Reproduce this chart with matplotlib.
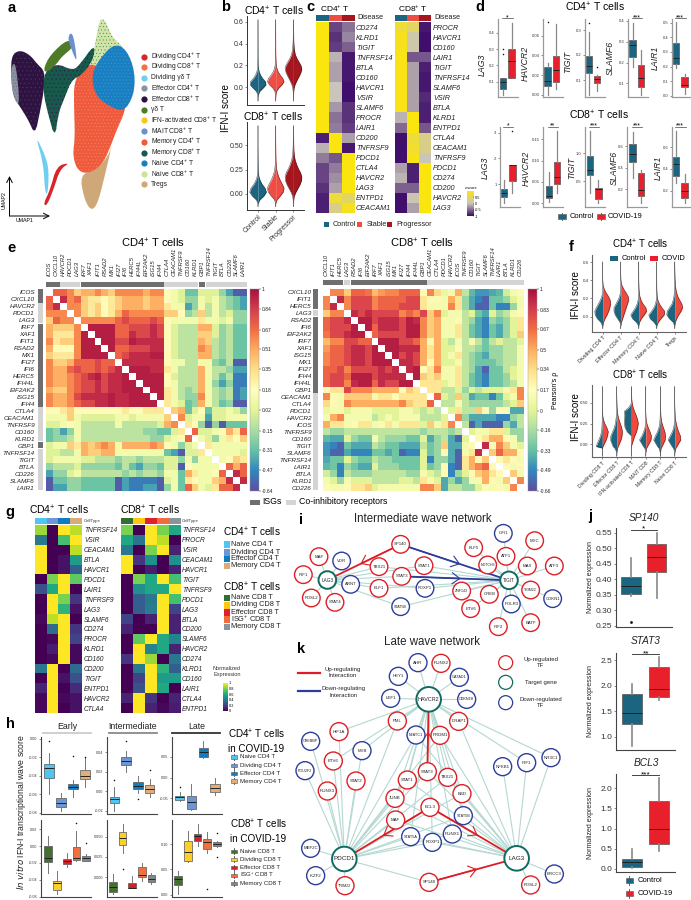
import numpy as np
import matplotlib
matplotlib.use('Agg')
import matplotlib.pyplot as plt
from matplotlib.patches import Polygon, Circle, Rectangle
from matplotlib.colors import LinearSegmentedColormap

plt.rcParams['font.family'] = ['Liberation Sans', 'DejaVu Sans']
plt.rcParams['mathtext.default'] = 'regular'
plt.rcParams['hatch.linewidth'] = 0.3

W, H = 691, 900
fig = plt.figure(figsize=(W / 100, H / 100), dpi=100, facecolor='white')
ov = fig.add_axes([0, 0, 1, 1], zorder=20)
ov.set_xlim(0, W); ov.set_ylim(H, 0); ov.axis('off'); ov.patch.set_alpha(0)

TEAL, COVID, STABLE, PROG = '#1b6580', '#e8202c', '#ef4c44', '#a5161f'
CD4, CD8 = r'CD4$^{+}$ T cells', r'CD8$^{+}$ T cells'

# ---------- a: UMAP cluster outlines (px*3)
umap_names = ['Dividing CD4$^{+}$ T', 'Dividing CD8$^{+}$ T', 'Dividing γδ T', 'Effector CD4$^{+}$ T', 'Effector CD8$^{+}$ T',
              'γδ T', 'IFN-activated CD8$^{+}$ T', 'MAIT CD8$^{+}$ T', 'Memory CD4$^{+}$ T', 'Memory CD8$^{+}$ T',
              'Naive CD4$^{+}$ T', 'Naive CD8$^{+}$ T', 'Tregs']
umap_colors = ['#d7262b', '#f2713c', '#6ecff0', '#8c91a0', '#2e1342', '#4f7a28', '#f6c61e', '#6d8fd0', '#ef5a3c', '#17594a',
               '#1a7fc1', '#cfe29c', '#cfa878']
u_tan = [(240, 525), (285, 510), (325, 470), (338, 425), (315, 525), (292, 615), (272, 632), (252, 595)]
u_mem4 = [(222, 245), (250, 200), (290, 190), (380, 280), (375, 335), (350, 390), (335, 430), (310, 490), (270, 520), (235, 515),
          (218, 470), (225, 410), (222, 320)]
u_naive4 = [(285, 195), (340, 130), (380, 148), (405, 215), (402, 285), (372, 335), (330, 320), (290, 290), (275, 240)]
u_naive8 = [(298, 58), (315, 58), (335, 110), (380, 150), (340, 160), (290, 205), (268, 205), (287, 125)]
u_eff8 = [(35, 165), (60, 150), (90, 165), (110, 190), (135, 215), (132, 270), (120, 335), (105, 405), (85, 360), (60, 320), (40, 290), (33, 220)]
u_eff4 = [(35, 195), (48, 190), (60, 322), (40, 292), (33, 240)]
u_mem8 = [(133, 215), (170, 190), (215, 210), (235, 200), (285, 130), (280, 180), (245, 225), (215, 240), (195, 290), (175, 340), (165, 415), (145, 345), (130, 280)]
u_gd = [(130, 208), (150, 165), (205, 115), (222, 140), (185, 170), (170, 192), (140, 218)]
u_mait = [(203, 113), (214, 96), (223, 120), (232, 190), (215, 150)]
u_divgd = [(106, 405), (135, 465), (147, 510), (143, 585), (135, 575), (130, 490)]
u_div4 = [(130, 612), (150, 570), (170, 498), (210, 488), (180, 508), (160, 570), (140, 618)]


def rounded(poly, n=2):
    p = np.array(poly, float)
    for _ in range(n):
        q = np.roll(p, -1, axis=0)
        p = np.column_stack([.75 * p + .25 * q, .25 * p + .75 * q]).reshape(-1, 2)
    return p


for poly, fc, hc, ha in [(u_tan, '#cfa878', '#cfa878', ''), (u_naive8, '#d3e5a6', '#3d8a5c', '.....'), (u_mem4, '#ef5a3c', '#f58a6a', '.....'),
                         (u_naive4, '#1a7fc1', '#3d9ad6', '.....'), (u_eff8, '#2e1342', '#4a3a55', '....'), (u_eff4, '#8c91a0', '#5f7080', '.....'),
                         (u_mem8, '#17594a', '#2f1a48', '....'), (u_gd, '#4f7a28', '#4f7a28', ''), (u_mait, '#6d8fd0', '#6d8fd0', ''),
                         (u_divgd, '#6ecff0', '#6ecff0', ''), (u_div4, '#d7262b', '#f2713c', '')]:
    ov.add_patch(Polygon(rounded(poly) / 3, closed=True, facecolor=fc, edgecolor=hc, hatch=ha, lw=0, zorder=1))
for i, (n, c) in enumerate(zip(umap_names, umap_colors)):
    yy = [170, 201, 233, 265, 297, 329, 361, 393, 425, 458, 490, 521, 552][i] / 3
    ov.scatter([144.5], [yy], s=20, color=c, lw=0)
    ov.text(151, yy, n, fontsize=4.9, va='center', color='#222222')
ov.annotate('', xy=(9.5, 176), xytext=(9.5, 216), arrowprops=dict(arrowstyle='->', lw=.7, color='k', shrinkA=0, shrinkB=0))
ov.annotate('', xy=(50, 216), xytext=(9.5, 216), arrowprops=dict(arrowstyle='->', lw=.7, color='k', shrinkA=0, shrinkB=0))
ov.text(4, 200, 'UMAP2', fontsize=3.8, rotation=90, ha='center', va='center')
ov.text(25, 221, 'UMAP1', fontsize=3.8, ha='center', va='center')


def ax_px(l, t, r, b):
    a = fig.add_axes([l / W, 1 - b / H, (r - l) / W, (b - t) / H])
    a.patch.set_alpha(0)
    return a


def cal_y(a, t, b, v1, y1, v2, y2):
    s = (v2 - v1) / (y2 - y1)
    a.set_ylim(v1 + (b - y1) * s, v1 + (t - y1) * s)


def cal_x(a, l, r, c0, dc):
    a.set_xlim((l - c0) / dc, (r - c0) / dc)


def style(a, ts=4, col='#333333', lw=.7, tl=1.5):
    for s in ['top', 'right']:
        a.spines[s].set_visible(False)
    for s in ['left', 'bottom']:
        a.spines[s].set_linewidth(lw); a.spines[s].set_color(col)
    a.tick_params(labelsize=ts, length=tl, width=.4, pad=1, colors='#333333')


# ---------- b: violins
b4_y = [-.13, -.1, -.07, -.04, -.01, .02, .05, .08, .11, .14, .17, .2, .23, .26, .3, .35, .4, .45, .5, .55, .62]
b4_control = [0, .01, .04, .2, .6, .95, .9, .55, .3, .14, .06, .03, .02, .015, .01, .008, .006, .005, .004, .002, 0]
b4_stable = [0, .01, .03, .1, .35, .75, 1, .85, .55, .3, .15, .07, .04, .025, .015, .01, .008, .006, .005, .003, 0]
b4_prog = [0, .005, .01, .03, .08, .18, .35, .55, .75, .92, 1, .9, .68, .45, .22, .1, .05, .025, .015, .01, 0]
b8_y = [-.13, -.1, -.06, -.02, .02, .06, .1, .14, .18, .22, .26, .3, .35, .4, .45, .5, .55, .6, .7]
b8_control = [0, .01, .2, .7, 1, .85, .5, .25, .1, .05, .03, .02, .015, .01, .005, 0, 0, 0, 0]
b8_stable = [0, .01, .15, .55, .9, 1, .8, .55, .35, .2, .1, .06, .03, .02, .015, .01, .006, .004, 0]
b8_prog = [0, 0, .03, .1, .3, .55, .8, .97, 1, .85, .6, .4, .2, .1, .05, .03, .02, .012, 0]
b_groups = ['Control', 'Stable', 'Progressor']


def violin(a, pos, y, wl, wr, cl, cr, hw):
    y = np.array(y); wl = np.array(wl) * hw; wr = np.array(wr) * hw
    a.fill_betweenx(y, pos - wl, pos, color=cl, lw=0)
    a.fill_betweenx(y, pos, pos + wr, color=cr, lw=0)
    a.plot(pos - wl, y, color='#222222', lw=.3)
    a.plot(pos + wr, y, color='#222222', lw=.3)


axb1 = ax_px(247, 16, 304, 105); style(axb1, 5)
cal_y(axb1, 16, 105, .6, 22, 0, 87); cal_x(axb1, 247, 304, 258, 17.7)
for i, (w, c) in enumerate(zip([b4_control, b4_stable, b4_prog], [TEAL, STABLE, PROG])):
    violin(axb1, i, b4_y, w, w, c, c, .47)
axb1.set_yticks([0, .2, .4, .6]); axb1.set_yticklabels(['0.0', '0.2', '0.4', '0.6']); axb1.set_xticks([])
axb2 = ax_px(247, 122, 304, 210); style(axb2, 5)
cal_y(axb2, 122, 210, .5, 145.3, 0, 194); cal_x(axb2, 247, 304, 258, 17.7)
for i, (w, c) in enumerate(zip([b8_control, b8_stable, b8_prog], [TEAL, STABLE, PROG])):
    violin(axb2, i, b8_y, w, w, c, c, .47)
axb2.set_yticks([0, .25, .5]); axb2.set_yticklabels(['0.00', '0.25', '0.50'])
axb2.set_xticks([0, 1, 2]); axb2.set_xticklabels(b_groups, rotation=45, ha='right', rotation_mode='anchor', fontsize=5)
ov.text(274, 11, CD4, fontsize=7.5, ha='center', va='center')
ov.text(273, 117, CD8, fontsize=7.5, ha='center', va='center')
ov.text(225.7, 108, 'IFN-I score', fontsize=7, rotation=90, ha='center', va='center')

# ---------- c: disease heatmaps
c4_genes = ['CD274', 'KLRD1', 'TIGIT', 'TNFRSF14', 'BTLA', 'CD160', 'HAVCR1', 'VSIR', 'SLAMF6', 'PROCR', 'LAIR1', 'CD200', 'TNFRSF9', 'PDCD1', 'CTLA4', 'HAVCR2', 'LAG3', 'ENTPD1', 'CEACAM1']
c4_control = [1, 1, 1, 1, 1, 1, 1, 1, 1, 1, 1, -.9, -.1, -.4, -.7, -.7, -.8, -.9, -.9]
c4_stable = [-.7, -.8, -.75, -.1, -.2, -.2, 0, 0, -.25, -.45, -.4, 1, 1, -.6, -.4, -.3, -.2, .75, .3]
c4_prog = [-.45, -.35, -.55, -.95, -.95, -.95, -1, -1, -.8, -.8, -.75, -.2, -.95, 1, 1, 1, 1, .5, .9]
c8_genes = ['PROCR', 'HAVCR1', 'CD160', 'LAIR1', 'TIGIT', 'TNFRSF14', 'SLAMF6', 'VSIR', 'BTLA', 'KLRD1', 'ENTPD1', 'CTLA4', 'CEACAM1', 'TNFRSF9', 'PDCD1', 'CD274', 'CD200', 'HAVCR2', 'LAG3']
c8_control = [.75, .9, .9, .95, .95, .95, .95, .95, .95, -.1, -.5, -1, -1, -1, -.2, -.1, -.55, -1, -1]
c8_stable = [.5, .1, .1, -.6, -.2, -.2, -.2, -.2, -.2, 1, 1, .75, .8, .95, -.9, -.9, -.55, .05, -.2]
c8_prog = [-.95, -1, -1, -.6, -.9, -.95, -.95, -.85, -.9, -.9, -.6, .3, .3, 0, 1, 1, 1, 1, 1]
c_cmap = LinearSegmentedColormap.from_list('c', ['#3f0f6b', '#c9c5bb', '#fbe50f'])


def lab_heat(a, data, genes, cmap, vmin, vmax, fs=5.2):
    a.imshow(np.array(data), cmap=cmap, vmin=vmin, vmax=vmax, aspect='auto', interpolation='nearest')
    a.set_xticks([]); a.yaxis.tick_right()
    a.set_yticks(range(len(genes))); a.set_yticklabels(genes, fontsize=fs, style='italic', color='#222222')
    a.tick_params(length=0, pad=1.5)
    for s in a.spines.values():
        s.set_visible(False)


for (l, r, cols, genes) in [(316, 354, [c4_control, c4_stable, c4_prog], c4_genes), (395, 431, [c8_control, c8_stable, c8_prog], c8_genes)]:
    a = ax_px(l, 22, r, 213)
    lab_heat(a, np.array(cols).T, genes, c_cmap, -1, 1)
    t = ax_px(l, 15, r, 21)
    t.imshow([[0, 1, 2]], cmap=matplotlib.colors.ListedColormap([TEAL, STABLE, PROG]), aspect='auto')
    t.axis('off')
    ov.text(r + 3, 17.5, 'Disease', fontsize=5.2, va='center', color='#222222')
ov.text(335, 9, 'CD4$^{+}$ T', fontsize=6, ha='center', va='center')
ov.text(413, 9, 'CD8$^{+}$ T', fontsize=6, ha='center', va='center')
cbc = ax_px(467, 191, 473, 216)
cbc.imshow(np.linspace(1, -1, 50)[:, None], cmap=c_cmap, aspect='auto', extent=[0, 1, -1, 1])
cbc.set_xticks([]); cbc.yaxis.tick_right(); cbc.set_yticks([-1, -.5, 0, .5]); cbc.set_yticklabels(['-1', '-0.5', '0', '0.5'], fontsize=2.8)
cbc.tick_params(length=1, width=.3, pad=.5)
for s in cbc.spines.values():
    s.set_visible(False)
ov.text(471, 188, 'z-score', fontsize=2.8, ha='center', va='center')
for xk, xt, n, col in [(327, 333, 'Control', TEAL), (360, 367, 'Stable', STABLE), (390, 396, 'Progressor', PROG)]:
    ov.add_patch(Rectangle((xk - 2.5, 221.5), 5, 5, color=col, lw=0))
    ov.text(xt, 224, n, fontsize=5.2, va='center', color='#222222')

# ---------- d: boxplots (lo, q1, median, q3, hi, fliers)
d4_genes = ['LAG3', 'HAVCR2', 'TIGIT', 'SLAMF6', 'LAIR1']
d4_control = [(.018, .053, .097, .12, .125, [.3, .27]), (0, .0095, .014, .0285, .032, [.0735]), (.04, .127, .156, .197, .293, [.33]),
              (.18, .229, .284, .31, .39, []), (.19, .22, .257, .36, .505, [])]
d4_covid = [(.12, .12, .226, .3, .457, []), (.0065, .013, .025, .039, .072, []), (.057, .09, .103, .116, .12, [.153]),
            (.044, .084, .124, .19, .26, []), (.01, .057, .07, .125, .148, [])]
d8_control = [(.25, .5, .66, .8, 1.15, []), (.002, .012, .016, .041, .073, []), (.28, .61, .7, .95, 1.4, []),
              (.3, .45, .53, .615, .73, []), (.27, .34, .45, .51, .75, [])]
d8_covid = [(.66, 1.13, 1.74, 1.74, 1.74, [3.08]), (.025, .045, .062, .097, .17, []), (.1, .17, .36, .37, .52, []),
            (.075, .14, .19, .35, .38, []), (.09, .13, .2, .27, .35, [])]
d4_sig = ['*', '', '', '***', '***']
d8_sig = ['*', '**', '***', '***', '***']


def boxes(a, stats, colors, width, med='#222222', whisk='#666666', lwk=.8, fs=1.1):
    bx = [dict(whislo=s[0], q1=s[1], med=s[2], q3=s[3], whishi=s[4], fliers=s[5]) for s in stats]
    for i, (b, c) in enumerate(zip(bx, colors)):
        a.bxp([b], positions=[i], widths=width, patch_artist=True, showcaps=False,
              boxprops=dict(facecolor=c, edgecolor='#555555', lw=.5),
              medianprops=dict(color=med, lw=.7), whiskerprops=dict(color=whisk, lw=lwk),
              flierprops=dict(marker='o', ms=fs, mfc='#111111', mec='#111111', mew=0), manage_ticks=False)


d4_layout = [(498, 503, 8.7, (.4, 32.7, .1, 81.7), [.1, .2, .3, .4], ['0.1', '0.2', '0.3', '0.4'], 482.7, 65),
             (543, 547.7, 8.3, (.06, 35.7, 0, 95), [0, .02, .04, .06], ['0.00', '0.02', '0.04', '0.06'], 525, 63),
             (585, 589.3, 8, (.3, 30, .1, 80), [.1, .2, .3], ['0.1', '0.2', '0.3'], 568, 62),
             (628, 632.7, 8.3, (.4, 21, .1, 83.3), [.1, .2, .3, .4], ['0.1', '0.2', '0.3', '0.4'], 610.7, 58),
             (672, 676, 8.7, (.5, 22.7, 0, 95.7), [0, .1, .2, .3, .4, .5], ['0.0', '0.1', '0.2', '0.3', '0.4', '0.5'], 655, 58)]
d8_layout = [(500, 504, 8.3, (3, 132.7, 1, 184), [1, 2, 3], ['1', '2', '3'], 485, 168),
             (543, 549, 8, (.15, 139.3, 0, 203.3), [0, .05, .1, .15], ['0.00', '0.05', '0.10', '0.15'], 526.7, 168),
             (585, 590, 8.3, (1, 153.3, .5, 181), [.5, 1], ['0.5', '1.0'], 571.7, 168),
             (627, 632.7, 8.3, (.6, 146, .2, 189.3), [.2, .4, .6], ['0.2', '0.4', '0.6'], 614, 168),
             (672, 676, 8.7, (.6, 147.3, .2, 190.7), [.2, .4, .6], ['0.2', '0.4', '0.6'], 658, 168)]
for rows, ctrl, cov, sigs, t, b, sy in [(d4_layout, d4_control, d4_covid, d4_sig, 19, 97, 18), (d8_layout, d8_control, d8_covid, d8_sig, 127, 206.7, 126.5)]:
    for j, ((l, c0, dc, cal, tk, tl, lx, ly), g) in enumerate(zip(rows, d4_genes)):
        r = min(l + 20, 690)
        a = ax_px(l, t, r, b); style(a, 3, '#999999', .9)
        cal_y(a, t, b, *cal); cal_x(a, l, r, c0, dc)
        boxes(a, [ctrl[j], cov[j]], [TEAL, COVID], .78, whisk='#888888', lwk=.9)
        a.set_yticks(tk); a.set_yticklabels(tl); a.set_xticks([])
        ov.text(lx, ly, g, fontsize=6.3, style='italic', rotation=90, ha='center', va='center', color='#222222')
        if sigs[j]:
            ov.plot([c0 - 1, c0 + dc + 1], [sy, sy], color='#444444', lw=.5)
            ov.text(c0 + dc / 2, sy - .3, sigs[j], fontsize=5, ha='center', va='center')
ov.text(595, 7.3, CD4, fontsize=7.5, ha='center', va='center')
ov.text(599, 115, CD8, fontsize=7.5, ha='center', va='center')


def key_box(x0, yc, w, h, col):
    ov.plot([x0 + w / 2, x0 + w / 2], [yc - h * .8, yc + h * .8], color='#666666', lw=.7)
    ov.add_patch(Rectangle((x0, yc - h / 2), w, h, facecolor=col, edgecolor='#555555', lw=.4, zorder=3))


key_box(557.7, 216.7, 8, 4.5, TEAL); ov.text(569.5, 216.7, 'Control', fontsize=5.4, va='center')
key_box(596.7, 216.7, 8, 4.5, COVID); ov.text(608, 216.7, 'COVID-19', fontsize=5.4, va='center')

# ---------- e: correlation matrices, upper triangles in tenths
e4_genes = ['ICOS', 'CXCL10', 'HAVCR2', 'PDCD1', 'LAG3', 'IRF7', 'XAF1', 'IFIT1', 'RSAD2', 'MX1', 'IFI27', 'IFI6', 'HERC5', 'IFI44L', 'EIF2AK2', 'ISG15', 'IFI44',
            'CTLA4', 'CEACAM1', 'TNFRSF9', 'CD160', 'KLRD1', 'GBP1', 'TNFRSF14', 'TIGIT', 'BTLA', 'CD226', 'SLAMF6', 'LAIR1']
e4_upper = [
    [7, 7, 6, 4, 5, 5, 6, 5, 4, 6, 6, 6, 6, 5, 6, 6, 2, 1, 0, -3, -3, 0, 0, 0, -2, -4, -6, -6],
    [9, 6, 7, 4, 3, 3, 2, 3, 4, 5, 5, 5, 4, 5, 5, 2, 1, 0, -2, -2, 1, 0, 1, -1, -2, -3, -4],
    [6, 6, 4, 3, 4, 2, 3, 4, 5, 5, 5, 4, 5, 5, 3, 1, 1, -4, -2, 1, -1, 1, -1, -2, -3, -4],
    [6, 4, 3, 4, 2, 3, 5, 7, 6, 6, 6, 6, 6, 4, 4, 2, -2, -1, 4, -1, 1, -1, 0, -2, -2],
    [6, 6, 6, 6, 6, 7, 8, 7, 7, 7, 8, 7, 2, 1, 1, 1, 1, 3, 1, 1, 0, 1, -2, -2],
    [9.5, 9.5, 9.5, 9.5, 7, 7, 8, 8, 8, 9, 8, 2, 0, -1, -1, -1, 5, 5, 0, -2, -1, -3, -3],
    [9.5, 9.5, 9.5, 7, 7, 9, 8, 8, 9, 8, 2, 0, -1, -1, -1, 4, 4, 0, -2, -1, -3, -3],
    [9.5, 9.5, 8, 8, 9.5, 9, 9, 9, 9, 2, 0, -1, -1, -1, 5, 4, -1, -2, -1, -3, -3],
    [9.5, 7, 7, 8, 8, 8, 9, 9, 2, 0, -1, -1, -1, 6, 5, -1, -2, -1, -3, -3],
    [7, 8, 9, 9, 9, 9.5, 9.5, 2, 0, -1, -1, -1, 5, 5, -1, -2, -1, -3, -3],
    [9, 9, 9, 9, 9, 9, 2, 1, 1, -1, -1, 1, 1, -2, -3, -1, -6, -6],
    [9.5, 9.5, 9.5, 9, 9, 3, 1, -1, -1, -1, 5, 1, -1, -1, -2, -4, -4],
    [9.5, 9.5, 9.5, 9.5, 2, 0, -1, -1, -1, 5, 1, -1, -3, -1, -5, -5],
    [9.5, 9.5, 9.5, 2, 1, -1, -1, -1, 5, 1, -2, -4, -2, -5, -5],
    [9.5, 9.5, 3, 1, -1, -2, -1, 5, 1, -1, -2, -1, -5, -4],
    [9.5, 3, 1, -1, -2, -2, 6, 1, -1, -2, -1, -5, -4],
    [3, 1, 0, -3, -2, 5, 1, -1, -3, -2, -6, -6],
    [4, 5, -3, 0, 2, -3, 0, 0, 1, 0, -2],
    [6, 0, 1, 1, -4, 0, 0, 1, 1, 1],
    [3, 2, -2, -6, -2, -6, -3, -3, -3],
    [7, 0, 0, 1, 2, 5, 3, 7],
    [1, 0, -2, 1, 3, 2, 4],
    [3, 1, 1, 1, 1, 1],
    [1, 1, 1, 1, 0],
    [1, 2, 4, 3],
    [7, 5, 7],
    [9, 7],
    [9]]
e4_groups = [2, 3, 12, 5, 1, 6]
e8_genes = ['CXCL10', 'IFIT1', 'HERC5', 'LAG3', 'RSAD2', 'IFI6', 'EIF2AK2', 'IRF7', 'XAF1', 'ISG15', 'MX1', 'IFI27', 'IFI44', 'IFI44L', 'GBP1', 'CEACAM1', 'CTLA4',
            'PDCD1', 'HAVCR2', 'ICOS', 'TNFRSF9', 'CD160', 'TIGIT', 'SLAMF6', 'TNFRSF14', 'LAIR1', 'BTLA', 'KLRD1', 'CD226']
e8_upper = [
    [6, 6, 4, 7, 7, 6.5, 4.5, 5.5, 6, 6, 7, 7, 7, 2, 6, 3.5, .5, 1, 5, -1, -3.5, -4.5, -4.5, -4, -3.5, -.5, 1, 2],
    [9, 6, 8, 8, 8, 6, 7, 7, 7, 7, 8, 8, 3, 2, 2, 1, 5, 3, -2, -4, -5, -6, -3, -3, -2, 0, 1],
    [6, 8, 8, 8, 6, 7, 7, 7, 8, 8, 8, 3, 1, 1, 1, 6, 3, -2, -4, -6, -6, -3, -5, -5, -2, 1],
    [9, 8, 9, 8, 8, 8, 8, 6, 7, 6, 8, 4, 6, 0, 1, 1, -1, 0, -3, -4, 0, -2, -1, 1, 2],
    [9.5, 9.5, 8, 9, 9, 9, 8, 9.5, 9, 6, 4, 5, 1, 1, 2, -1, -2, -4, -5, -2, -3, -2, 0, 3],
    [9.5, 7, 9, 9, 9, 8, 9.5, 9.5, 6, 4, 5, 1, 1, 3, -1, -3, -4, -5, -3, -4, -2, 0, 3],
    [7, 8, 8, 8, 8, 9.5, 9.5, 6, 4, 5, 1, 1, 3, -1, -3, -4, -5, -3, -4, -2, 0, 4],
    [9.5, 9.5, 9.5, 8, 8, 7, 5, 1, 5, 0, -1, 1, -1, 1, -1, -3, -1, 0, -1, -1, 0],
    [9.5, 9.5, 9, 9, 9, 5, 3, 5, 0, 0, 2, -1, -1, -2, -3, -2, -2, -1, -1, 1],
    [9.5, 8, 9, 8, 5, 3, 5, 0, 1, 3, -1, -2, -3, -4, -2, -2, -1, -1, 1],
    [9, 9, 8, 5, 2, 5, 0, 0, 1, -1, -2, -3, -3, -3, -2, -1, -1, 1],
    [9, 9.5, 2, 3, 6, 1, 1, 3, -1, -2, -4, -6, -3, -3, -1, 0, 1],
    [9.5, 4, 3, 4, 1, 1, 3, -1, -3, -4, -5, -3, -3, -2, 0, 1],
    [3, 3, 3, 0, 1, 3, -1, -3, -4, -5, -3, -3, -2, -1, 1],
    [3, 3, -1, -1, 0, -2, 0, -1, 0, 0, 0, 1, 3, 6],
    [7, 0, -1, 4, -1, -4, -3, -3, -5, -3, 0, 1, 6],
    [-1, -1, 1, -1, -2, -2, -2, -2, -2, -1, 0, 4],
    [0, 3, -1, -1, 4, 2, -2, 2, 2, -4, -4],
    [6, -2, -4, -4, -4, -4, -5, -5, -2, -1],
    [-1, -6, -4, -6, -6, -6, -2, -4, -1],
    [0, 1, 1, 3, 3, 0, -2, -2],
    [2, 3, 5, 5, 2, 1, -2],
    [9, 2, 6, 4, 1, 0],
    [4, 7, 5, 5, 2],
    [2, 3, 2, 1],
    [2, 1, 2],
    [4, 1],
    [6]]
e8_groups = [3, 1, 11, 14]
GD, GL = '#6e6e6e', '#d4d4d4'
e_cmap = LinearSegmentedColormap.from_list('e', ['#5e4fa2', '#3288bd', '#66c2a5', '#abdda4', '#e6f598', '#ffffbf', '#fee08b', '#fdae61', '#f46d43', '#d53e4f', '#a8123f'])
e_cmap.set_bad('white')


def corr(up):
    n = len(up) + 1
    m = np.full((n, n), np.nan)
    for i, row in enumerate(up):
        for k, v in enumerate(row):
            m[i, i + 1 + k] = m[i + 1 + k, i] = v / 10
    return m


for (mat, genes, gr, l, r, tb, lb, cb, lo, ticks, tl, cols) in [
        (e4_upper, e4_genes, e4_groups, 46, 247, (281.7, 286.7), (37.7, 42.7), (250, 259), -.64,
         [1, .84, .67, .51, .35, .18, .02, -.15, -.31, -.47, -.64], ['1', '0.84', '0.67', '0.51', '0.35', '0.18', '0.02', '-0.15', '-0.31', '-0.47', '-0.64'], [GD, GL, GD, GL, GD, GL]),
        (e8_upper, e8_genes, e8_groups, 323, 524, (280, 285), (313, 318.5), (528, 537), -.66,
         [1, .83, .67, .5, .34, .17, 0, -.16, -.33, -.49, -.66], ['1', '0.83', '0.67', '0.5', '0.34', '0.17', '0', '-0.16', '-0.33', '-0.49', '-0.66'], [GD, GL, GD, GL])]:
    a = ax_px(l, 289, r, 491)
    a.set_facecolor('white'); a.patch.set_alpha(1)
    a.imshow(corr(mat), cmap=e_cmap, vmin=lo, vmax=1, aspect='auto', interpolation='nearest')
    a.xaxis.tick_top()
    a.set_xticks(range(29)); a.set_xticklabels(genes, rotation=90, fontsize=4.2, style='italic', color='#222222')
    a.set_yticks(range(29)); a.set_yticklabels(genes, fontsize=4.6, style='italic', color='#222222')
    a.tick_params(axis='x', length=0, pad=9)
    a.tick_params(axis='y', length=0, pad=8 if l > 100 else 8)
    for s in a.spines.values():
        s.set_visible(False)
    cell = (r - l) / 29
    st = 0
    for n, c in zip(gr, cols):
        ov.add_patch(Rectangle((l + st * cell + .3, tb[0]), n * cell - .6, tb[1] - tb[0], color=c, lw=0))
        ov.add_patch(Rectangle((lb[0], 289 + st * cell + .3), lb[1] - lb[0], n * cell - .6, color=c, lw=0))
        st += n
    cba = ax_px(cb[0], 289, cb[1], 491)
    cba.imshow(np.linspace(1, lo, 200)[:, None], cmap=e_cmap, vmin=lo, vmax=1, aspect='auto', extent=[0, 1, lo, 1])
    cba.set_xticks([]); cba.yaxis.tick_right(); cba.set_yticks(ticks); cba.set_yticklabels(tl, fontsize=3.6, color='#222222')
    cba.tick_params(length=1.2, width=.3, pad=.8)
    for s in cba.spines.values():
        s.set_linewidth(.3); s.set_color('#999999')
ov.text(152.7, 243, CD4, fontsize=8, ha='center', va='center')
ov.text(421.7, 243, CD8, fontsize=8, ha='center', va='center')
ov.text(556, 390, "Pearson's ρ", fontsize=5, rotation=90, ha='center', va='center')
ov.add_patch(Rectangle((250, 499.5), 10, 5, color=GD, lw=0)); ov.text(262, 502, 'ISGs', fontsize=6.3, va='center')
ov.add_patch(Rectangle((286, 499.5), 10, 5, color=GL, lw=0)); ov.text(299, 502, 'Co-inhibitory receptors', fontsize=6.3, va='center')

# ---------- f: split violins
f4_y = [-.13, -.1, -.06, -.02, .02, .06, .1, .14, .18, .22, .26, .3, .35, .4, .45, .5, .55, .6]
f4_cats = ['Dividing CD4 T', 'Effector CD4 T', 'Memory CD4 T', 'Naive CD4 T', 'Tregs']
f4_control = [[0, .02, .25, .7, .95, 1, .8, .55, .3, .12, .03, .01, 0, 0, 0, 0, 0, 0],
              [0, 0, .1, .4, .7, .85, .85, .6, .35, .15, .05, .02, .01, 0, 0, 0, 0, 0],
              [0, .02, .3, .8, 1, .7, .4, .2, .08, .04, .02, .01, .01, .005, .005, .003, .002, 0],
              [0, .03, .35, .85, 1, .65, .35, .15, .06, .03, .015, .01, .005, .002, 0, 0, 0, 0],
              [0, .02, .2, .7, 1, .95, .65, .35, .2, .1, .05, .03, .02, .015, .01, .005, .003, 0]]
f4_covid = [[0, .02, .1, .3, .55, .75, .9, 1, .95, .75, .45, .2, .05, .01, 0, 0, 0, 0],
            [0, .02, .1, .25, .4, .55, .7, .85, 1, .95, .7, .4, .12, .03, .01, 0, 0, 0],
            [0, .01, .1, .35, .7, 1, .9, .55, .3, .15, .08, .04, .02, .01, .005, .003, .002, 0],
            [0, .02, .2, .55, .95, 1, .65, .35, .15, .06, .03, .015, .007, .003, 0, 0, 0, 0],
            [0, .01, .08, .25, .5, .8, 1, .9, .65, .4, .25, .15, .08, .05, .03, .02, .01, .005]]
f8_y = [-.15, -.1, -.05, -.03, .05, .1, .15, .2, .25, .3, .35, .4, .45, .5, .55, .6, .7]
f8_cats = ['Dividing CD8 T', 'Effector CD8 T', 'IFN-activated CD8 T', 'MAIT CD8', 'Memory CD8 T', 'Naive CD8 T']
f8_control = [[0, 0, 0, .9, .5, .25, .12, .06, .03, .02, .01, .005, 0, 0, 0, 0, 0],
              [0, .02, .3, .55, .9, .85, .6, .35, .2, .12, .06, .03, .02, .01, .005, 0, 0],
              [0, 0, 0, 0, 0, 0, .6, .9, 1, 1, .95, 1, .3, 0, 0, 0, 0],
              [0, 0, .15, .35, .9, .55, .3, .12, .04, .01, 0, 0, 0, 0, 0, 0, 0],
              [0, .02, .2, .4, .95, .7, .4, .2, .08, .04, .02, .01, .005, 0, 0, 0, 0],
              [0, .01, .2, .4, .95, .65, .35, .15, .07, .03, .02, .01, 0, 0, 0, 0, 0]]
f8_covid = [[0, 0, 0, .1, .55, .75, .85, .65, .35, .15, .05, .02, .005, 0, 0, 0, 0],
            [.005, .02, .1, .2, .6, .75, .8, .7, .5, .3, .15, .08, .04, .02, .01, 0, 0],
            [0, 0, 0, 0, .3, .5, .75, .9, 1, .9, .7, .45, .25, .12, .05, .03, .01],
            [0, .02, .12, .25, .75, .8, .6, .35, .15, .05, .02, 0, 0, 0, 0, 0, 0],
            [.01, .03, .12, .25, .7, .75, .65, .45, .25, .13, .07, .04, .02, .01, 0, 0, 0],
            [0, .02, .15, .3, .85, .8, .55, .35, .2, .1, .05, .03, .01, 0, 0, 0, 0]]
LC, RC = '#1b6580', '#ee4a3e'
fa = ax_px(592, 255, 686, 331.7); style(fa, 3.2, '#666666', .8)
cal_y(fa, 255, 331.7, .6, 262, 0, 316.7); cal_x(fa, 592, 686, 602.7, 18)
for i, (wl, wr) in enumerate(zip(f4_control, f4_covid)):
    violin(fa, i, f4_y, wl, wr, LC, RC, .44)
fa.set_yticks([0, .2, .4, .6]); fa.set_yticklabels(['0.0', '0.2', '0.4', '0.6'])
fa.set_xticks(range(5)); fa.set_xticklabels(f4_cats, rotation=45, ha='right', rotation_mode='anchor', fontsize=3.9)
fb = ax_px(592, 385, 686, 457); style(fb, 3.2, '#666666', .8)
cal_y(fb, 385, 457, .5, 403, 0, 444); cal_x(fb, 592, 686, 602.3, 14.5)
for i, (wl, wr) in enumerate(zip(f8_control, f8_covid)):
    violin(fb, i, f8_y, wl, wr, LC, RC, .48)
fb.set_yticks([0, .25, .5]); fb.set_yticklabels(['0.00', '0.25', '0.50'])
fb.set_xticks(range(6)); fb.set_xticklabels(f8_cats, rotation=45, ha='right', rotation_mode='anchor', fontsize=3.7)
ov.text(640, 244, CD4, fontsize=7, ha='center', va='center')
ov.text(640, 375.7, CD8, fontsize=7, ha='center', va='center')
ov.text(576, 295, 'IFN-I score', fontsize=7, rotation=90, ha='center', va='center')
ov.text(576, 417, 'IFN-I score', fontsize=7, rotation=90, ha='center', va='center')
ov.add_patch(Rectangle((610, 255.5), 8.5, 5, color=TEAL, lw=0)); ov.text(622, 258, 'Control', fontsize=5.4, va='center')
ov.add_patch(Rectangle((650, 255.5), 8.5, 5, color=COVID, lw=0)); ov.text(662, 258, 'COVID', fontsize=5.4, va='center')

# ---------- g: viridis heatmaps
g4_genes = ['TNFRSF14', 'VSIR', 'CEACAM1', 'BTLA', 'HAVCR1', 'PDCD1', 'LAIR1', 'TNFRSF9', 'LAG3', 'SLAMF6', 'CD274', 'PROCR', 'KLRD1', 'CD160', 'CD200', 'TIGIT', 'ENTPD1', 'HAVCR2', 'CTLA4']
g4_naive = [.85, .4, 1, 1, 1, 0, .25, 0, 0, .02, 0, 0, 0, 0, .4, 0, .1, .02, .02]
g4_dividing = [0, 0, 0, 0, 0, .8, .6, 1, 1, .9, .35, .02, .08, .02, 1, 1, 1, 1, 1]
g4_effector = [1, .7, 0, .05, .05, 1, 1, .8, .65, 1, 1, 1, 1, 1, 0, .05, 0, .02, 0]
g4_memory = [.9, 1, .9, .55, .3, .75, 0, .15, .05, 0, .15, .2, .02, .02, .35, .25, .12, .05, .05]
g8_genes = ['TNFRSF14', 'PROCR', 'VSIR', 'CEACAM1', 'HAVCR1', 'TIGIT', 'TNFRSF9', 'PDCD1', 'LAG3', 'BTLA', 'CD200', 'SLAMF6', 'HAVCR2', 'CD274', 'KLRD1', 'CD160', 'LAIR1', 'CTLA4', 'ENTPD1']
g8_naive = [.8, .6, .4, 1, 1, 0, 0, 0, 0, .2, .1, 0, 0, .15, 0, 0, 0, .1, 0]
g8_dividing = [0, .38, 0, .15, 0, .8, .5, .3, .3, 0, 0, .75, 1, 1, .4, .2, .25, 1, 1]
g8_effector = [1, 1, .8, .5, .08, .6, .6, .4, .42, .1, 0, 1, .45, .85, 1, 1, 1, .15, .1]
g8_isg = [.8, .9, 1, 0, 0, 1, .6, 1, 1, 1, 1, .6, .6, 0, .65, .55, .6, 0, .02]
g8_memory = [.6, 0, .1, .5, .1, .7, 1, .7, .2, .1, .1, .45, .1, .4, .3, .55, 0, .1, .08]
g4_colors = ['#4fc5f0', '#6d96d6', '#0f7cc0', '#d9ab79']
g8_colors = ['#2f6f33', '#fdc80d', '#e2202c', '#f26b3a', '#8a949c']
g4_legend = ['Naive CD4 T', 'Dividing CD4 T', 'Effector CD4 T', 'Memory CD4 T']
g8_legend = ['Naive CD8 T', 'Dividing CD8 T', 'Effector CD8 T', 'ISG$^{+}$ CD8 T', 'Memory CD8 T']
for l, r, cols, genes, tc in [(35, 82, [g4_naive, g4_dividing, g4_effector, g4_memory], g4_genes, g4_colors),
                              (120.7, 180, [g8_naive, g8_dividing, g8_effector, g8_isg, g8_memory], g8_genes, g8_colors)]:
    a = ax_px(l, 525, r, 713)
    lab_heat(a, np.array(cols).T, genes, 'viridis', 0, 1, 4.8)
    t = ax_px(l, 518, r, 524)
    t.imshow([range(len(tc))], cmap=matplotlib.colors.ListedColormap(tc), aspect='auto'); t.axis('off')
    ov.text(r + 1.5, 521, 'CellType', fontsize=3.2, va='center', color='#333333')
ov.text(59, 510.7, CD4, fontsize=7.5, ha='center', va='center')
ov.text(150, 510.7, CD8, fontsize=7.5, ha='center', va='center')
ov.text(252, 532.7, CD4, fontsize=7.2, ha='center', va='center')
ov.text(252, 587, CD8, fontsize=7.2, ha='center', va='center')
for names, cols, ys in [(g4_legend, g4_colors, [133, 157, 176, 197]), (g8_legend, g8_colors, [293, 315, 336, 358, 380])]:
    for n, c, y in zip(names, cols, ys):
        ov.add_patch(Rectangle((224, 500 + y / 3 - 3), 6, 6.5, color=c, lw=0))
        ov.text(231, 500 + y / 3, n, fontsize=5.3, va='center', color='#222222')
ov.text(227, 671.5, 'Normalized\nExpression', fontsize=4, ha='center', va='center', linespacing=1.3, color='#333333')
cbg = ax_px(223, 683, 228, 711)
cbg.imshow(np.linspace(1, 0, 50)[:, None], cmap='viridis', aspect='auto', extent=[0, 1, 0, 1])
cbg.set_xticks([]); cbg.yaxis.tick_right(); cbg.set_yticks([0, .2, .4, .6, .8, 1]); cbg.set_yticklabels(['0', '0.2', '0.4', '0.6', '0.8', '1'], fontsize=2.8)
cbg.tick_params(length=0, pad=.8)
for s in cbg.spines.values():
    s.set_visible(False)

# ---------- h: wave score boxes
h4_colors = ['#4fc5f0', '#6d96d6', '#0f7cc0', '#dfae7a']
h8_colors = ['#44702f', '#fdcf2d', '#d21f2b', '#f2703f', '#7f868c']
h4_early = [(-.06, -.042, -.031, -.027, -.0155, [-.002]), (-.078, -.0735, -.07, -.064, -.059, []), (-.0626, -.0547, -.052, -.049, -.0445, [-.0185]), (-.0525, -.043, -.04, -.0337, -.021, [-.019])]
h4_inter = [(-.02, -.0126, -.0085, -.0058, .004, [.011]), (.0198, .0266, .0307, .0344, .041, [.0515]), (-.0017, .002, .0055, .0089, .0157, [-.0078]), (-.0065, -.0014, .0017, .0061, .0123, [.0215])]
h4_late = [(-.0565, -.054, -.0476, -.044, -.0355, [-.022]), (-.078, -.075, -.06, -.0435, -.016, []), (.047, .049, .061, .0726, .089, []), (-.042, -.035, -.025, -.0153, -.0016, [])]
h8_early = [(-.0317, -.0186, -.0139, 0, .0119, []), (-.057, -.0523, -.0436, -.0412, -.0293, []), (-.025, -.0206, -.0178, -.0158, -.0079, []), (-.0182, -.0166, -.0139, -.0008, .0174, [.027]), (-.0178, -.0174, -.0143, -.0119, -.0095, [.004])]
h8_inter = [(-.0205, -.0176, -.0123, -.0061, .0037, []), (.0295, .0393, .049, .0561, .0656, [.0098]), (-.0135, -.0135, -.0127, -.0074, .0016, []), (-.0045, .0004, .0029, .0123, .018, []), (-.0082, -.0057, -.0016, .0025, .0049, [])]
h8_late = [(.0013, .0197, .031, .0375, .0467, []), (.065, .0664, .0836, .1066, .1257, []), (.096, .1059, .1158, .1197, .1388, []), (.0816, .0895, .1046, .1099, .123, [.0105]), (.0934, .096, .1, .1039, .1066, [.121, .075])]
h_facets = ['Early', 'Intermediate', 'Late']
h4_leg = ['Naive CD4 T', 'Dividing CD4 T', 'Effector CD4 T', 'Memory CD4 T']
h8_leg = ['Naive CD8 T', 'Dividing CD8 T', 'Effector CD8 T', 'ISG$^{+}$ CD8 T', 'Memory CD8 T']
hz = 690
for st, cols, l, c0, dc, cal, tk, tl, t, b, r in [
        (h4_early, h4_colors, 40.7, 48.7, 12, (0, hz + 49, -.08, hz + 122.7), [0, -.02, -.04, -.06, -.08], ['0.00', '-0.02', '-0.04', '-0.06', '-0.08'], 736.7, 814.3, 91),
        (h4_inter, h4_colors, 106.7, 114.3, 11.8, (.04, hz + 62, -.02, hz + 120.7), [.04, .02, 0, -.02], ['0.04', '0.02', '0.00', '-0.02'], 736.7, 814.3, 157),
        (h4_late, h4_colors, 172, 179.7, 11.8, (.05, hz + 67, -.05, hz + 108.3), [.05, 0, -.05], ['0.05', '0.00', '-0.05'], 736.7, 814.3, 222),
        (h8_early, h8_colors, 40.7, 47.7, 9.55, (.02, hz + 139.3, -.06, hz + 206.7), [.02, 0, -.02, -.04, -.06], ['0.02', '0.00', '-0.02', '-0.04', '-0.06'], 820, 896.7, 91),
        (h8_inter, h8_colors, 106.7, 113, 9.6, (.05, hz + 146.7, 0, hz + 187.3), [.05, .025, 0], ['0.050', '0.025', '0.000'], 820, 896.7, 157),
        (h8_late, h8_colors, 172, 178.3, 9.6, (.1, hz + 154, 0, hz + 204.7), [.1, .05, 0], ['0.10', '0.05', '0.00'], 820, 896.7, 222)]:
    a = ax_px(l, t, r, b); style(a, 2.7, '#444444', .8)
    cal_y(a, t, b, *cal); cal_x(a, l, r, c0, dc)
    boxes(a, st, cols, .8, whisk='#777777', lwk=.7)
    a.set_yticks(tk); a.set_yticklabels(tl); a.set_xticks([])
for name, xc, x0, x1, col in zip(h_facets, [67, 133, 197], [43, 109, 172], [91, 157, 220], ['#cccccc', '#8a8a8a', '#333333']):
    ov.text(xc, 726.7, name, fontsize=6.3, ha='center', va='center', color='#222222')
    ov.plot([x0, x1], [732.5, 732.5], color=col, lw=1.3)
ov.text(22, 812, r'$\mathit{In\ vitro}$ IFN-I transcriptional wave score', fontsize=6.2, rotation=90, ha='center', va='center', color='#222222')
ov.text(228, 741, CD4 + '\nin COVID-19', fontsize=7.1, va='center', linespacing=1.3)
ov.text(230, 831, CD8 + '\nin COVID-19', fontsize=7.1, va='center', linespacing=1.3)
for names, cols, ys in [(h4_leg, h4_colors, [201, 227, 250, 273]), (h8_leg, h8_colors, [484, 508, 533, 556, 580])]:
    for n, c, y in zip(names, cols, ys):
        key_box(231, hz + y / 3, 6, 3.6, c)
        ov.text(240, hz + y / 3, n, fontsize=4.4, va='center', color='#222222')

# ---------- i / k: networks (node positions in px*3, panel local)
EDGE = '#b4d8d2'; NR, NB, NG = '#dc1f26', '#2c3d9b', '#0f6b5f'
i_names_red = ['MAF', 'IRF1', 'FOSL2', 'STAT4', 'TBX21', 'SP140', 'STAT3', 'STAT1', 'ELF1', 'KLF5', 'ATF1', 'MYC', 'MAX', 'ATF3', 'NOTCH3', 'ZNF143', 'CREB', 'ETV6', 'IRF2', 'BATF', 'TRIM22']
i_x_red = [147, 100, 124, 195, 327, 392, 395, 462, 327, 611, 708, 794, 772, 853, 653, 575, 658, 602, 685, 782, 782]
i_y_red = [170, 224, 294, 307, 200, 133, 229, 197, 265, 143, 169, 122, 198, 198, 195, 273, 283, 326, 380, 368, 270]
i_names_blue = ['VDR', 'ARNT', 'FOXP1', 'STAT5B', 'GFI1', 'CDKN1', 'POLR3']
i_x_blue = [215, 242, 465, 392, 700, 848, 724]
i_y_blue = [183, 253, 265, 320, 100, 296, 312]
i_names_target = ['LAG3', 'TIGIT']
i_x_target = [172, 717]
i_y_target = [240, 241]
i_to_lag3 = ['MAF', 'IRF1', 'FOSL2', 'STAT4', 'VDR', 'ARNT', 'TBX21', 'STAT3', 'STAT1', 'ELF1', 'STAT5B', 'FOXP1']
i_to_tigit = ['TBX21', 'STAT3', 'STAT1', 'ELF1', 'FOXP1', 'STAT5B', 'KLF5', 'ATF1', 'MYC', 'MAX', 'ATF3', 'NOTCH3', 'ZNF143', 'CREB', 'ETV6', 'IRF2', 'BATF', 'TRIM22', 'GFI1', 'CDKN1', 'POLR3']
i_bold = [('SP140', 'LAG3', NR), ('SP140', 'TIGIT', NB), ('STAT3', 'TIGIT', NB)]

k_names_red = ['RUNX2', 'PML', 'DRAP1', 'HIF1A', 'PRDM1', 'ETV6', 'STAT2', 'RUNX3', 'STAT3', 'STAT1', 'TBX21', 'BBD', 'JUNB', 'BCL3', 'MAF', 'SP140', 'TRIM22', 'FOSL2']
k_x_red = [513, 382, 566, 207, 510, 190, 258, 172, 472, 412, 533, 576, 375, 480, 377, 477, 225, 782]
k_y_red = [40, 213, 214, 245, 256, 333, 393, 423, 365, 390, 382, 431, 445, 472, 510, 697, 707, 705]
k_names_blue = ['AHR', 'HEY1', 'GATAD1', 'LEF1', 'CDKN1B', 'NFATC1', 'CREBBP', 'MYB', 'POU2F2', 'NR3C1', 'IRF1', 'NFKB1', 'STAT5B', 'RUNX1', 'STAT5A', 'FOXP1', 'MEF2C', 'IKZF2', 'BRCC3']
k_x_blue = [444, 385, 568, 362, 590, 438, 122, 276, 105, 843, 770, 698, 580, 547, 422, 487, 122, 137, 853]
k_y_blue = [38, 79, 82, 145, 148, 255, 274, 302, 362, 323, 338, 350, 497, 552, 560, 577, 595, 677, 672]
k_names_target = ['HAVCR2', 'PDCD1', 'LAG3']
k_x_target = [476, 223, 740]
k_y_target = [148, 627, 625]
k_to_havcr2 = ['AHR', 'RUNX2', 'HEY1', 'GATAD1', 'LEF1', 'CDKN1B', 'PML', 'DRAP1', 'HIF1A', 'ETV6', 'MYB', 'NFATC1', 'PRDM1', 'STAT1', 'TBX21', 'JUNB', 'BBD', 'MAF', 'STAT5B', 'RUNX1', 'FOXP1', 'NR3C1', 'IRF1', 'STAT5A']
k_to_pdcd1 = ['PML', 'HIF1A', 'CREBBP', 'ETV6', 'MYB', 'POU2F2', 'STAT2', 'RUNX3', 'NFATC1', 'PRDM1', 'STAT3', 'STAT1', 'TBX21', 'BBD', 'JUNB', 'MAF', 'STAT5A', 'FOXP1', 'RUNX1', 'STAT5B', 'MEF2C', 'IKZF2', 'TRIM22', 'SP140']
k_to_lag3 = ['DRAP1', 'NFATC1', 'PRDM1', 'STAT3', 'STAT1', 'TBX21', 'BBD', 'JUNB', 'MAF', 'STAT5B', 'RUNX1', 'STAT5A', 'FOXP1', 'NFKB1', 'IRF1', 'NR3C1', 'FOSL2', 'BRCC3']
k_bold = [('STAT3', 'HAVCR2', NR), ('BCL3', 'PDCD1', NR), ('BCL3', 'LAG3', NR), ('SP140', 'LAG3', NR)]


def network(ox, oy, reds, blues, targets, links, bold, rnode, rtarget, fs, fst):
    pos = {}
    for names, xs, ys in [reds, blues, targets]:
        for n, x, y in zip(names, xs, ys):
            pos[n] = (ox + x / 3, oy + y / 3)
    for tgt, src in links:
        for n in src:
            ov.plot(*zip(pos[n], pos[tgt]), color=EDGE, lw=.8, zorder=4)
    for s, t, c in bold:
        ov.plot(*zip(pos[s], pos[t]), color=c, lw=1.3, zorder=5, solid_capstyle='butt')
        mx, my = pos[s][0] * .45 + pos[t][0] * .55, pos[s][1] * .45 + pos[t][1] * .55
        ov.annotate('', xy=(mx, my), xytext=pos[s], zorder=5,
                    arrowprops=dict(arrowstyle='->,head_length=.55,head_width=.4', color=c, lw=.8, shrinkA=0, shrinkB=0))
    for (names, xs, ys), col, rad, f, lw in [(reds, NR, rnode, fs, 1), (blues, NB, rnode, fs, 1), (targets, NG, rtarget, fst, 1.4)]:
        for n in names:
            ov.add_patch(Circle(pos[n], rad, facecolor='white', edgecolor=col, lw=lw, zorder=6))
            size = f if len(n) < 6 else f * .85
            ov.text(*pos[n], n, fontsize=size, ha='center', va='center', color='#222222', zorder=7)


network(270, 500, (i_names_red, i_x_red, i_y_red), (i_names_blue, i_x_blue, i_y_blue), (i_names_target, i_x_target, i_y_target),
        [('LAG3', i_to_lag3), ('TIGIT', i_to_tigit)], i_bold, 8.8, 8.8, 3.1, 3.3)
network(270, 650, (k_names_red, k_x_red, k_y_red), (k_names_blue, k_x_blue, k_y_blue), (k_names_target, k_x_target, k_y_target),
        [('HAVCR2', k_to_havcr2), ('PDCD1', k_to_pdcd1), ('LAG3', k_to_lag3)], k_bold, 9, 12.3, 3.2, 4.6)
ov.text(423, 519, 'Intermediate wave network', fontsize=8.3, ha='center', va='center', color='#222222')
ov.text(431.7, 641.7, 'Late wave network', fontsize=8.3, ha='center', va='center', color='#222222')
ov.plot([298.5, 320], [672.7, 672.7], color=NR, lw=1.6)
ov.plot([298.5, 320], [691, 691], color=NB, lw=1.6)
ov.text(343, 672.5, 'Up-regulating\nInteraction', fontsize=4.3, ha='center', va='center', linespacing=1.3, color='#222222')
ov.text(344, 692, 'Down-regulating\nInteraction', fontsize=4.3, ha='center', va='center', linespacing=1.3, color='#222222')
for y, col, t in [(38, NR, 'Up-regulated\nTF'), (97, NG, 'Target gene'), (158, NB, 'Down-regulated\nTF')]:
    ov.add_patch(Circle((270 + 707 / 3, 650 + y / 3), 7, facecolor='white', edgecolor=col, lw=.9))
    ov.text(270 + 812 / 3, 650 + y / 3, t, fontsize=4.3, ha='center', va='center', linespacing=1.3, color='#222222')

# ---------- j: boxes
j_genes = ['SP140', 'STAT3', 'BCL3']
j_control = [(.347, .352, .38, .406, .47, [.263]), (.82, 1.25, 1.47, 1.83, 2.03, []), (.025, .05, .16, .24, .5, [])]
j_covid = [(.34, .424, .472, .515, .55, []), (1.73, 1.78, 1.94, 2.36, 2.57, []), (.45, .61, .98, 1.69, 2.25, [])]
j_sig = ['*', '**', '***']
j_layout = [(528, 626.7, 672, 631, 25.7, (.55, 532.7, .25, 626), [.25, .3, .35, .4, .45, .5, .55], ['0.25', '0.30', '0.35', '0.40', '0.45', '0.50', '0.55'], 517.7, 529.5),
            (652.7, 750, 675, 632.3, 26.7, (2.5, 660.3, 1, 736.7), [1, 1.5, 2, 2.5], ['1.0', '1.5', '2.0', '2.5'], 641.3, 654),
            (774, 872, 675, 632.3, 26.7, (2, 788.3, 0, 868.7), [0, .5, 1, 1.5, 2], ['0.0', '0.5', '1.0', '1.5', '2.0'], 762.7, 775)]
for g, cc, cv, sg, (t, b, r, c0, dc, cal, tk, tl, ty, sy) in zip(j_genes, j_control, j_covid, j_sig, j_layout):
    a = ax_px(615.7, t, r, b); style(a, 6, '#444444', .8)
    cal_y(a, t, b, *cal); cal_x(a, 615.7, r, c0, dc)
    boxes(a, [cc, cv], [TEAL, COVID], .76, whisk='#888888', lwk=1.2, fs=2)
    a.set_yticks(tk); a.set_yticklabels(tl); a.set_xticks([])
    ov.text(591, (t + b) / 2, 'Normalized expression', fontsize=5, rotation=90, ha='center', va='center', color='#222222')
    ov.text(c0 + dc / 2 + .5, ty, g, fontsize=7.3, style='italic', ha='center', va='center', color='#222222')
    ov.plot([c0, c0 + dc], [sy, sy], color='#444444', lw=.7)
    ov.text(c0 + dc / 2, sy - .6, sg, fontsize=6, ha='center', va='center')
key_box(625.7, 880.7, 7, 5.5, TEAL); ov.text(637.5, 880.7, 'Control', fontsize=5.5, va='center')
key_box(625.7, 893.3, 7, 5.5, COVID); ov.text(637.5, 893.3, 'COVID-19', fontsize=5.5, va='center')

# ---------- panel letters
for t, x, y in [('a', 12, 8), ('b', 226, 7), ('c', 310, 7), ('d', 480, 7), ('e', 12, 248), ('f', 571, 247), ('g', 10, 512), ('h', 10, 724), ('i', 300.7, 520), ('j', 590, 516), ('k', 301, 649)]:
    ov.text(x, y, t, fontsize=10.5, fontweight='bold', ha='center', va='center')

fig.savefig('out.png', dpi=100)
